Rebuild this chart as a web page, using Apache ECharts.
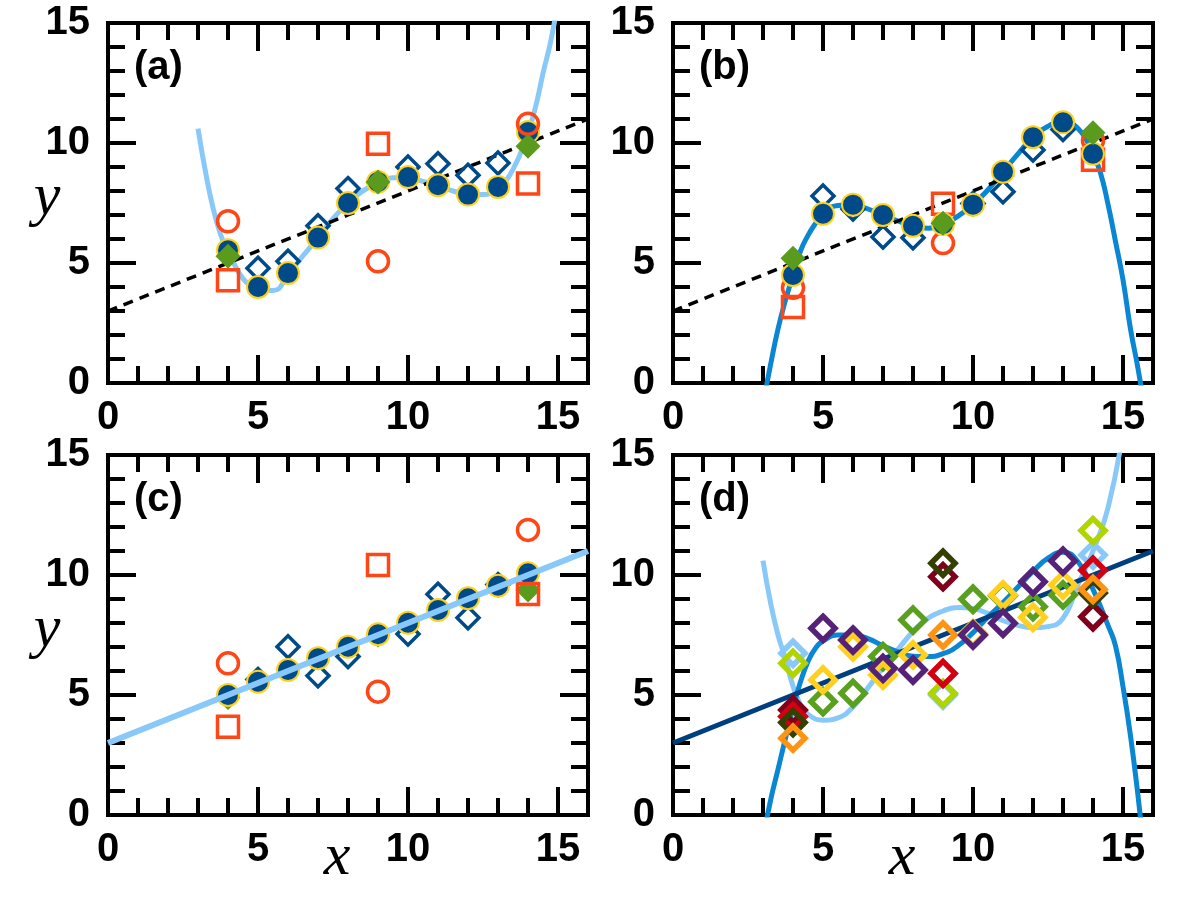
<!DOCTYPE html>
<html>
<head>
<meta charset="utf-8">
<script src="https://cdn.jsdelivr.net/npm/echarts@6/dist/echarts.min.js"></script>
<style>
  html, body { margin: 0; padding: 0; background: #fff; }
  #chart { width: 1200px; height: 900px; }
</style>
</head>
<body>
<div id="chart"></div>
<script>
// x positions shared by the panels
var xFull = [4, 5, 6, 7, 8, 9, 10, 11, 12, 13, 14];
var xMid = [5, 6, 7, 8, 10, 11, 12, 13];
var xEnds = [4, 9, 14];
var xLine = [0, 16];
var yLine = [3.0, 11.0];
var tickLabels = [0, 5, 10, 15];
var panelLabels = ['(a)', '(b)', '(c)', '(d)'];

// panel (a)
var aCircles = [5.53, 4.0, 4.58, 6.06, 7.5, 8.38, 8.58, 8.24, 7.85, 8.17, 10.46];
var aDiamonds = [4.78, 5.07, 6.55, 8.1, 9.0, 9.14, 8.66, 9.17];
var aGreen = [5.28, 8.38, 9.86];
var aRings = [6.74, 5.07, 10.8];
var aSquares = [4.28, 9.97, 8.31];
var aCurveX = [3.0, 3.25, 3.5, 3.75, 4.0, 4.25, 4.5, 4.75, 5.0, 5.5, 6.0, 6.5, 7.0, 7.5, 8.0, 8.5, 9.0, 9.5, 10, 10.5, 11, 11.5, 12, 12.5, 13, 13.5, 14, 14.25, 14.5, 14.75, 15.0];
var aCurveY = [10.6, 8.8, 7.3, 6.2, 5.45, 4.85, 4.35, 4.05, 3.9, 3.85, 4.5, 5.3, 6.05, 6.85, 7.5, 8.0, 8.35, 8.55, 8.55, 8.4, 8.22, 8.0, 7.85, 7.85, 8.15, 8.9, 10.45, 11.5, 12.9, 14.2, 15.9];

// panel (b)
var bCircles = [4.5, 7.05, 7.43, 7.0, 6.55, 6.62, 7.43, 8.8, 10.24, 10.86, 9.55];
var bDiamonds = [7.79, 7.25, 6.08, 6.05, 7.48, 7.97, 9.71, 10.56];
var bGreen = [5.2, 6.66, 10.43];
var bRings = [3.97, 5.83, 10.1];
var bSquares = [3.17, 7.47, 9.3];
var bCurveX = [3.0, 3.25, 3.5, 3.75, 4.0, 4.25, 4.5, 4.75, 5.0, 5.5, 6.0, 6.5, 7.0, 7.5, 8.0, 8.5, 9.0, 9.5, 10, 10.5, 11, 11.5, 12, 12.5, 13, 13.5, 14, 14.25, 14.5, 14.75, 15.0, 15.25, 15.5, 15.75];
var bCurveY = [-0.85, 0.75, 2.25, 3.45, 4.5, 5.5, 6.15, 6.65, 7.05, 7.4, 7.43, 7.25, 7.0, 6.75, 6.55, 6.45, 6.6, 6.95, 7.43, 8.05, 8.8, 9.55, 10.24, 10.7, 10.86, 10.6, 9.55, 8.75, 7.45, 5.9, 4.3, 2.25, 0.6, -1.3];

// panel (c)
var cCircles = [5.0, 5.55, 6.04, 6.53, 7.01, 7.53, 8.01, 8.54, 9.03, 9.55, 10.07];
var cDiamonds = [5.65, 7.01, 5.8, 6.6, 7.54, 9.2, 8.22, 9.6];
var cGreen = [4.9, 7.5, 9.38];
var cRings = [6.32, 5.14, 11.88];
var cSquares = [3.68, 10.42, 9.21];

// panel (d)
var dLightBlue = [6.74, 5.0, 10.83];
var dLime = [6.32, 5.07, 11.85];
var dDarkRed = [4.38, 9.93, 8.26];
var dRed = [4.1, 5.9, 10.2];
var dOlive = [3.85, 10.49, 9.25];
var dOrange = [3.2, 7.5, 9.4];
var dGreen = [4.72, 5.07, 6.6, 8.12, 8.99, 9.14, 8.68, 9.17];
var dYellow = [5.63, 7.01, 5.83, 6.67, 7.55, 9.17, 8.24, 9.58];
var dPurple = [7.78, 7.29, 6.11, 6.04, 7.5, 7.99, 9.72, 10.58];
var dLightCurveX = [3.0, 3.25, 3.5, 3.75, 4.0, 4.25, 4.5, 5.0, 5.5, 6.0, 6.5, 7.0, 7.5, 8.0, 8.5, 9.0, 9.5, 10, 10.5, 11, 11.5, 12, 12.5, 13, 13.5, 14, 14.5, 15.0];
var dLightCurveY = [10.6, 8.85, 7.5, 6.5, 5.37, 4.6, 4.2, 3.95, 4.05, 4.5, 5.3, 6.15, 6.9, 7.65, 8.2, 8.5, 8.65, 8.6, 8.4, 8.1, 7.9, 7.8, 7.85, 8.2, 9.6, 11.0, 12.8, 16.0];
var dBlueCurveX = [3.0, 3.25, 3.5, 3.75, 4.0, 4.25, 4.5, 4.75, 5.0, 5.5, 6.0, 6.5, 7.0, 7.5, 8.0, 8.5, 9.0, 9.5, 10, 10.5, 11, 11.5, 12, 12.5, 13, 13.5, 14, 14.5, 14.75, 15.0, 15.25, 15.5, 15.75];
var dBlueCurveY = [-1.0, 0.6, 1.9, 3.2, 4.45, 5.55, 6.4, 6.95, 7.25, 7.5, 7.5, 7.35, 7.05, 6.8, 6.62, 6.6, 6.72, 7.05, 7.6, 8.25, 8.85, 9.5, 10.15, 10.7, 10.95, 10.55, 9.4, 7.9, 7.05, 5.35, 3.3, 0.8, -2.0];

var FONT = 'Liberation Sans';
var grids = [
  { left: 108, top: 23, width: 480, height: 360 },
  { left: 673, top: 23, width: 480, height: 360 },
  { left: 108, top: 455, width: 480, height: 360 },
  { left: 673, top: 455, width: 480, height: 360 }
];

function pairs(xa, ya) {
  return xa.map(function (x, i) { return [x, ya[i]]; });
}

var tickStyle = { color: '#000', width: 4, cap: 'butt' };
var xAxes = [], yAxes = [];
grids.forEach(function (g, i) {
  ['bottom', 'top'].forEach(function (pos) {
    xAxes.push({
      gridIndex: i, type: 'value', position: pos, min: 0, max: 16, interval: 5,
      axisLine: { show: false, onZero: false },
      axisTick: { show: true, inside: true, length: 28, lineStyle: tickStyle },
      axisLabel: {
        show: pos === 'bottom', showMaxLabel: false, margin: 15,
        fontFamily: FONT, fontWeight: 'bold', fontSize: 40, color: '#000'
      },
      splitLine: { show: false }
    });
    xAxes.push({
      gridIndex: i, type: 'value', position: pos, min: 0, max: 16, interval: 1,
      axisLine: { show: false, onZero: false },
      axisTick: { show: true, inside: true, length: 17, lineStyle: tickStyle },
      axisLabel: { show: false },
      splitLine: { show: false }
    });
  });
  ['left', 'right'].forEach(function (pos) {
    yAxes.push({
      gridIndex: i, type: 'value', position: pos, min: 0, max: 15, interval: 5,
      axisLine: { show: false, onZero: false },
      axisTick: { show: true, inside: true, length: 28, lineStyle: tickStyle },
      minorTick: { show: true, splitNumber: 5, length: 17, lineStyle: tickStyle },
      axisLabel: {
        show: pos === 'left', margin: 18,
        fontFamily: FONT, fontWeight: 'bold', fontSize: 40, color: '#000'
      },
      splitLine: { show: false }
    });
  });
});

var series = [];
function add(panel, s) {
  s.xAxisIndex = panel * 4;
  s.yAxisIndex = panel * 2;
  s.silent = true;
  s.animation = false;
  series.push(s);
}
function curve(panel, data, color, width, z, dash) {
  add(panel, {
    type: 'line', data: data, smooth: true, showSymbol: false, symbol: 'none', z: z,
    lineStyle: { color: color, width: width, type: dash || 'solid' }
  });
}
function dots(panel, data, symbol, size, fill, stroke, bw, z) {
  add(panel, {
    type: 'scatter', data: data, symbol: symbol, symbolSize: size, z: z,
    itemStyle: { color: fill, borderColor: stroke, borderWidth: bw, opacity: 1 }
  });
}

var NAVY = '#004a8a', GOLD = '#ffd21a', GREEN = '#5a9b1e', RED = '#ff4616';
var LIGHT = '#88c9fa', BLUE = '#0b86d2', DARK = '#003f7f';
var CLEAR = 'rgba(0,0,0,0)';

// (a)
curve(0, pairs(aCurveX, aCurveY), LIGHT, 5, 2);
curve(0, pairs(xLine, yLine), '#000', 3.5, 3, [10, 7]);
dots(0, pairs(xMid, aDiamonds), 'diamond', 22, CLEAR, NAVY, 3.5, 4);
dots(0, pairs(xFull, aCircles), 'circle', 22, NAVY, GOLD, 2, 5);
dots(0, pairs(xEnds, aGreen), 'diamond', 25, GREEN, GREEN, 0, 6);
dots(0, pairs(xEnds, aRings), 'circle', 21, CLEAR, RED, 3.5, 7);
dots(0, pairs(xEnds, aSquares), 'rect', 21, CLEAR, RED, 3.5, 7);

// (b)
curve(1, pairs(bCurveX, bCurveY), BLUE, 5, 2);
curve(1, pairs(xLine, yLine), '#000', 3.5, 3, [10, 7]);
dots(1, pairs(xMid, bDiamonds), 'diamond', 22, CLEAR, NAVY, 3.5, 4);
dots(1, pairs(xEnds, bRings), 'circle', 21, CLEAR, RED, 3.5, 4);
dots(1, pairs(xEnds, bSquares), 'rect', 21, CLEAR, RED, 3.5, 4);
dots(1, pairs(xFull, bCircles), 'circle', 22, NAVY, GOLD, 2, 5);
dots(1, pairs(xEnds, bGreen), 'diamond', 25, GREEN, GREEN, 0, 6);

// (c)
dots(2, pairs(xEnds, cGreen), 'diamond', 25, GREEN, GREEN, 0, 3);
dots(2, pairs(xMid, cDiamonds), 'diamond', 22, CLEAR, NAVY, 3.5, 4);
dots(2, pairs(xFull, cCircles), 'circle', 22, NAVY, GOLD, 2, 5);
dots(2, pairs(xEnds, cRings), 'circle', 21, CLEAR, RED, 3.5, 7);
dots(2, pairs(xEnds, cSquares), 'rect', 21, CLEAR, RED, 3.5, 7);
curve(2, pairs(xLine, yLine), LIGHT, 6, 8);

// (d)
curve(3, pairs(dLightCurveX, dLightCurveY), LIGHT, 5, 2);
curve(3, pairs(dBlueCurveX, dBlueCurveY), BLUE, 5, 2);
curve(3, pairs(xLine, yLine), DARK, 5, 3);
dots(3, pairs(xEnds, dLightBlue), 'diamond', 24, CLEAR, LIGHT, 5.5, 4);
dots(3, pairs(xEnds, dLime), 'diamond', 24, CLEAR, '#b0d400', 5.5, 4);
dots(3, pairs(xEnds, dDarkRed), 'diamond', 24, CLEAR, '#80001c', 5.5, 4);
dots(3, pairs(xEnds, dRed), 'diamond', 24, CLEAR, '#d20010', 5.5, 4);
dots(3, pairs(xEnds, dOlive), 'diamond', 24, CLEAR, '#334000', 5.5, 4);
dots(3, pairs(xEnds, dOrange), 'diamond', 24, CLEAR, '#ff9412', 5.5, 4);
dots(3, pairs(xMid, dGreen), 'diamond', 24, CLEAR, '#5aa020', 5.5, 4);
dots(3, pairs(xMid, dYellow), 'diamond', 24, CLEAR, '#ffd020', 5.5, 4);
dots(3, pairs(xMid, dPurple), 'diamond', 24, CLEAR, '#552277', 5.5, 4);

var graphics = [];
grids.forEach(function (g, i) {
  graphics.push({
    type: 'text', left: g.left + 26, top: g.top + 25, z: 20,
    style: { text: panelLabels[i], fontFamily: FONT, fontWeight: 'bold', fontSize: 40, fill: '#000' }
  });
});
[[47, 198], [47, 630]].forEach(function (p) {
  graphics.push({
    type: 'text', x: p[0], y: p[1], z: 20,
    style: { text: 'y', fontFamily: 'Liberation Serif', fontStyle: 'italic', fontSize: 60, fill: '#000',
      align: 'center', verticalAlign: 'middle' }
  });
});
[[337, 858], [902, 858]].forEach(function (p) {
  graphics.push({
    type: 'text', x: p[0], y: p[1], z: 20,
    style: { text: 'x', fontFamily: 'Liberation Serif', fontStyle: 'italic', fontSize: 60, fill: '#000',
      align: 'center', verticalAlign: 'middle' }
  });
});

var chart = echarts.init(document.getElementById('chart'), null, { renderer: 'canvas' });
chart.setOption({
  animation: false,
  backgroundColor: '#fff',
  grid: grids.map(function (g) {
    return { left: g.left, top: g.top, width: g.width, height: g.height,
      show: true, borderColor: '#000', borderWidth: 4, backgroundColor: 'transparent', containLabel: false };
  }),
  xAxis: xAxes,
  yAxis: yAxes,
  series: series,
  graphic: graphics
});
</script>
</body>
</html>
